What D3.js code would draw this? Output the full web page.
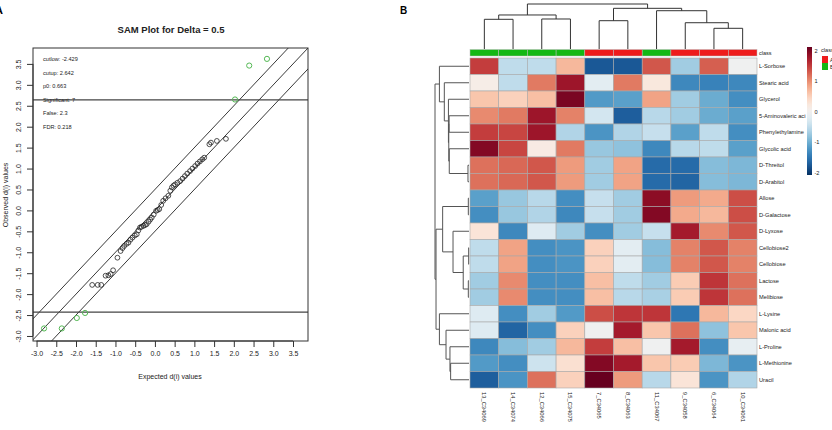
<!DOCTYPE html>
<html>
<head>
<meta charset="utf-8">
<script src="https://cdn.jsdelivr.net/npm/d3@7"></script>
<style>
  html, body { margin: 0; padding: 0; background: #fff; }
  svg { display: block; font-family: "Liberation Sans", Arial, sans-serif; }
</style>
</head>
<body>
<svg id="chart" width="832" height="430"></svg>
<script>
// ---------------- DATA ----------------
// Panel A: SAM plot
const samTitle = "SAM Plot for Delta = 0.5";
const samXTicks = [-3.0, -2.5, -2.0, -1.5, -1.0, -0.5, 0.0, 0.5, 1.0, 1.5, 2.0, 2.5, 3.0, 3.5];
const samYTicks = [-3.0, -2.5, -2.0, -1.5, -1.0, -0.5, 0.0, 0.5, 1.0, 1.5, 2.0, 2.5, 3.0, 3.5];
const samInfo = ["cutlow: -2.429", "cutup: 2.642", "p0: 0.663", "Significant: 7", "False: 2.3", "FDR: 0.218"];
const cutLow = -2.429;
const cutUp = 2.642;
const delta = 0.5;
const samExpected = [-1.59,-1.45,-1.36,-1.25,-1.18,-1.12,-1.06,-0.95,-0.87,-0.82,-0.78,-0.72,-0.67,-0.62,-0.57,-0.51,-0.46,-0.42,-0.38,-0.34,-0.29,-0.25,-0.21,-0.16,-0.12,-0.08,-0.03,0.03,0.07,0.11,0.16,0.21,0.27,0.34,0.39,0.43,0.47,0.51,0.57,0.64,0.70,0.76,0.82,0.89,0.95,1.02,1.08,1.14,1.20,1.25,1.38,1.42,1.57,1.80];
const samObserved = [-1.78,-1.78,-1.78,-1.56,-1.55,-1.52,-1.43,-1.13,-0.97,-0.90,-0.85,-0.80,-0.77,-0.70,-0.65,-0.60,-0.57,-0.48,-0.41,-0.39,-0.37,-0.35,-0.33,-0.27,-0.22,-0.17,-0.10,-0.01,0.01,0.03,0.13,0.23,0.29,0.35,0.47,0.55,0.59,0.62,0.66,0.70,0.76,0.82,0.88,0.94,1.00,1.06,1.12,1.17,1.22,1.26,1.58,1.62,1.66,1.71];
const sigExpected = [-2.81,-2.36,-1.98,-1.77,2.03,2.39,2.84];
const sigObserved = [-2.82,-2.82,-2.57,-2.45,2.65,3.46,3.62];

// Panel B: heatmap
const sampleNames = ["13_C34069","14_C34074","12_C34066","15_C34075","7_C34065","8_C34063","11_C34067","9_C34058","6_C34064","10_C34061"];
const sampleClass = ["B","B","B","B","A","A","B","A","A","A"];
const metabolites = ["L-Sorbose","Stearic acid","Glycerol","5-Aminovaleric aci","Phenylethylamine","Glycolic acid","D-Threitol","D-Arabitol","Allose","D-Galactose","D-Lyxose","Cellobiose2","Cellobiose","Lactose","Melibiose","L-Lysine","Malonic acid","L-Proline","L-Methionine","Uracil"];
const zL_Sorbose     = [1.4,-0.5,-0.5,0.65,-1.7,-1.7,1.25,-0.7,1.2,-0.05];
const zStearic       = [0.1,-0.5,1.05,1.7,-0.2,1.05,0.2,-1.3,-1.35,-1.3];
const zGlycerol      = [0.55,0.45,0.6,1.9,-1.15,-1.1,0.8,-0.7,-1.0,-1.25];
const zAminovaleric  = [0.95,1.05,1.7,1.0,-0.35,-1.65,-0.55,-0.7,-1.0,-1.1];
const zPhenylethyl   = [1.4,1.35,1.7,-0.6,-1.2,-0.6,-0.45,-1.1,-0.5,-1.25];
const zGlycolic      = [1.85,1.35,0.15,1.05,-0.75,-0.8,-1.3,-0.55,-0.5,-1.1];
const zThreitol      = [1.1,1.15,1.25,0.85,-0.7,0.8,-1.55,-1.55,-0.85,-0.9];
const zArabitol      = [1.1,1.15,1.25,0.85,-0.7,0.8,-1.55,-1.6,-0.85,-0.9];
const zAllose        = [-1.1,-0.75,-0.55,-1.25,-0.45,-0.7,1.8,0.85,0.75,1.3];
const zGalactose     = [-1.25,-0.75,-0.6,-1.3,-0.45,-0.7,1.85,0.75,0.65,1.3];
const zLyxose        = [0.25,-1.3,-0.25,-0.7,-1.25,-0.7,-0.45,1.65,0.95,1.25];
const zCellobiose2   = [-0.5,0.8,-1.25,-1.2,0.45,-0.2,-0.85,1.0,1.25,1.0];
const zCellobiose    = [-0.5,0.8,-1.25,-1.2,0.45,-0.2,-0.85,1.0,1.25,1.0];
const zLactose       = [-0.7,0.95,-1.25,-1.25,0.6,-0.5,-0.7,0.5,1.45,1.1];
const zMelibiose     = [-0.7,0.95,-1.25,-1.25,0.6,-0.55,-0.65,0.5,1.45,1.1];
const zLysine        = [-0.25,-1.25,-0.7,-1.15,1.3,1.45,1.45,-1.45,0.65,0.4];
const zMalonic       = [-0.25,-1.6,-1.25,0.45,-0.05,1.65,0.55,1.1,-0.8,0.55];
const zProline       = [-1.3,-0.85,-0.7,0.65,1.4,0.6,-0.05,1.65,-1.25,-0.15];
const zMethionine    = [-1.15,-1.25,-0.4,0.3,1.85,1.65,0.55,0.5,-0.9,-1.2];
const zUracil        = [-1.65,-1.2,1.1,0.45,2.0,0.85,-0.55,0.25,-1.2,-0.6];
const legendTicks = [2, 1, 0, -1, -2];
const classLevels = ["A", "B"];
// Dendrograms: [height, left, right]; leaves are indices
const colTree = [10, [7.56, [6.6, 0, 1], [6.67, 2, 3]], [9.04, [6.29, 4, 5], [8.51, 6, [5.84, 7, [4.6, 8, 9]]]]];
const rowTree = [10,
  [8.7, 0, [7.26, 1, [6.05, 2, [5.95, [5.85, 3, 4], [5.8, 5, [0.3, 6, 7]]]]]],
  [9.7,
    [7.75, [0.2, 8, 9], [4.7, 10, [1.7, [0.1, 11, 12], [0.2, 13, 14]]]],
    [8.7, 15, [6.76, 16, [5.6, 17, [5.4, 18, 19]]]]
  ]
];

// ---------------- DRAW ----------------
const svg = d3.select("#chart");

// ===== Panel A =====
const gA = svg.append("g");
const x = d3.scaleLinear().domain([-3.09, 3.88]).range([33, 308]);
const y = d3.scaleLinear().domain([-3.12, 3.88]).range([341, 48]);

gA.append("text").attr("x", -5).attr("y", 14).attr("font-weight", "bold").attr("font-size", 11).text("A");

gA.append("text").attr("x", 171).attr("y", 33).attr("text-anchor", "middle")
  .attr("font-weight", "bold").attr("font-size", 9.5).attr("fill", "#222").text(samTitle);

gA.append("defs").append("clipPath").attr("id", "clipA")
  .append("rect").attr("x", 33).attr("y", 48).attr("width", 275).attr("height", 293);

const plot = gA.append("g").attr("clip-path", "url(#clipA)");
[delta, 0, -delta].forEach(off => {
  plot.append("line")
    .attr("x1", x(-4)).attr("y1", y(-4 + off))
    .attr("x2", x(5)).attr("y2", y(5 + off))
    .attr("stroke", "#222").attr("stroke-width", 0.9);
});
[cutUp, cutLow].forEach(c => {
  plot.append("line").attr("x1", 33).attr("x2", 308).attr("y1", y(c)).attr("y2", y(c))
    .attr("stroke", "#444").attr("stroke-width", 1.2);
});

plot.selectAll("circle.ns").data(samExpected).enter().append("circle")
  .attr("cx", (d) => x(d)).attr("cy", (d, i) => y(samObserved[i])).attr("r", 2.4)
  .attr("fill", "none").attr("stroke", "#222").attr("stroke-width", 0.8);
plot.selectAll("circle.sig").data(sigExpected).enter().append("circle")
  .attr("cx", (d) => x(d)).attr("cy", (d, i) => y(sigObserved[i])).attr("r", 2.6)
  .attr("fill", "none").attr("stroke", "#55b955").attr("stroke-width", 1);

samInfo.forEach((t, i) => {
  gA.append("text").attr("x", 43).attr("y", 61 + i * 13.6).attr("font-size", 5.6).attr("fill", "#222").text(t);
});

gA.append("rect").attr("x", 33).attr("y", 48).attr("width", 275).attr("height", 293)
  .attr("fill", "none").attr("stroke", "#333").attr("stroke-width", 1);

const xAxis = gA.append("g").attr("transform", "translate(0,341)")
  .call(d3.axisBottom(x).tickValues(samXTicks).tickSize(6).tickFormat(d => d.toFixed(1)));
xAxis.select(".domain").attr("d", `M${x(-3)},0H${x(3.5)}`).attr("stroke", "#333");
xAxis.selectAll(".tick line").attr("stroke", "#333");
xAxis.selectAll(".tick text").attr("font-size", 7).attr("fill", "#222").attr("dy", "0.95em").attr("y", 8)
  .attr("font-family", "Liberation Sans, Arial, sans-serif");

const yAxis = gA.append("g").attr("transform", "translate(33,0)")
  .call(d3.axisLeft(y).tickValues(samYTicks).tickSize(6).tickFormat(d => d.toFixed(1)));
yAxis.select(".domain").attr("d", `M0,${y(-3)}V${y(3.5)}`).attr("stroke", "#333");
yAxis.selectAll(".tick line").attr("stroke", "#333");
yAxis.selectAll(".tick text").attr("font-size", 7).attr("fill", "#222")
  .attr("x", null).attr("dy", null).attr("text-anchor", "middle")
  .attr("transform", "translate(-12,0) rotate(-90)").attr("y", 0)
  .attr("font-family", "Liberation Sans, Arial, sans-serif");

gA.append("text").attr("x", 170).attr("y", 379).attr("text-anchor", "middle")
  .attr("font-size", 7).attr("fill", "#222").text("Expected d(i) values");
gA.append("text").attr("transform", "translate(8,195) rotate(-90)").attr("text-anchor", "middle")
  .attr("font-size", 7).attr("fill", "#222").text("Observed d(i) values");

// ===== Panel B =====
const gB = svg.append("g");
gB.append("text").attr("x", 400).attr("y", 14).attr("font-weight", "bold").attr("font-size", 10).text("B");

const zRows = [zL_Sorbose, zStearic, zGlycerol, zAminovaleric, zPhenylethyl, zGlycolic, zThreitol, zArabitol,
  zAllose, zGalactose, zLyxose, zCellobiose2, zCellobiose, zLactose, zMelibiose, zLysine, zMalonic, zProline, zMethionine, zUracil];

const xb = d3.scaleBand().domain(d3.range(sampleNames.length)).range([470, 757]);
const yb = d3.scaleBand().domain(d3.range(metabolites.length)).range([58, 388]);
const color = d3.scaleSequential(t => d3.interpolateRdBu(1 - t)).domain([-2, 2]).clamp(true);
const classColor = d3.scaleOrdinal().domain(classLevels).range(["#ee1c1c", "#14b814"]);

// class bar
gB.selectAll("rect.cls").data(sampleClass).enter().append("rect")
  .attr("x", (d, i) => xb(i)).attr("y", 49.5).attr("width", xb.bandwidth()).attr("height", 6.5)
  .attr("fill", d => classColor(d)).attr("stroke", "#bbb").attr("stroke-width", 0.5);
gB.append("text").attr("x", 759).attr("y", 55).attr("font-size", 5.5).attr("fill", "#222").text("class");

// cells
zRows.forEach((row, r) => {
  gB.selectAll(null).data(row).enter().append("rect")
    .attr("x", (d, c) => xb(c)).attr("y", yb(r)).attr("width", xb.bandwidth()).attr("height", yb.bandwidth())
    .attr("fill", d => color(d)).attr("stroke", "#a8a8a8").attr("stroke-width", 0.6);
});

// row labels
gB.selectAll("text.rl").data(metabolites).enter().append("text")
  .attr("x", 759).attr("y", (d, i) => yb(i) + yb.bandwidth() / 2 + 2)
  .attr("font-size", 5.7).attr("fill", "#222").text(d => d);

// column labels
gB.selectAll("text.cl").data(sampleNames).enter().append("text")
  .attr("transform", (d, i) => `translate(${xb(i) + xb.bandwidth() / 2 - 2},392) rotate(90)`)
  .attr("font-size", 5.8).attr("fill", "#222").text(d => d);

// dendrograms
function drawTree(g, tree, leafPos, hScale, vertical) {
  function rec(node) {
    if (typeof node === "number") return { p: leafPos(node), h: 0 };
    const [h, l, r] = node;
    const a = rec(l), b = rec(r);
    const ph = hScale(h);
    let d;
    if (vertical) {
      d = `M${a.p},${hScale(a.h)}V${ph}H${b.p}V${hScale(b.h)}`;
    } else {
      d = `M${hScale(a.h)},${a.p}H${ph}V${b.p}H${hScale(b.h)}`;
    }
    g.append("path").attr("d", d).attr("fill", "none").attr("stroke", vertical ? "#333" : "#555").attr("stroke-width", 1);
    return { p: (a.p + b.p) / 2, h: h };
  }
  rec(tree);
}
const colH = d3.scaleLinear().domain([0, 10]).range([49, 4]);
const rowH = d3.scaleLinear().domain([0, 10]).range([469, 435]);
drawTree(gB, colTree, i => xb(i) + xb.bandwidth() / 2, colH, true);
drawTree(gB, rowTree, i => yb(i) + yb.bandwidth() / 2, rowH, false);

// legend color bar
const defs = svg.append("defs");
const grad = defs.append("linearGradient").attr("id", "lg").attr("x1", 0).attr("x2", 0).attr("y1", 0).attr("y2", 1);
d3.range(0, 1.001, 0.05).forEach(t => {
  grad.append("stop").attr("offset", t).attr("stop-color", color(2 - 4 * t));
});
const ly = d3.scaleLinear().domain([2, -2]).range([50.5, 173]);
gB.append("rect").attr("x", 807).attr("y", 47).attr("width", 5).attr("height", 128).attr("fill", "url(#lg)");
gB.selectAll("text.lt").data(legendTicks).enter().append("text")
  .attr("x", 814.5).attr("y", d => ly(d) + 2).attr("font-size", 5.6).attr("fill", "#222").text(d => d);
gB.append("text").attr("x", 821).attr("y", 52).attr("font-size", 5.6).attr("fill", "#222").text("class");
classLevels.forEach((c, i) => {
  gB.append("rect").attr("x", 822).attr("y", 56 + i * 7).attr("width", 6).attr("height", 7).attr("fill", classColor(c));
  gB.append("text").attr("x", 830).attr("y", 62 + i * 7).attr("font-size", 5.6).attr("fill", "#222").text(c);
});
</script>
</body>
</html>
